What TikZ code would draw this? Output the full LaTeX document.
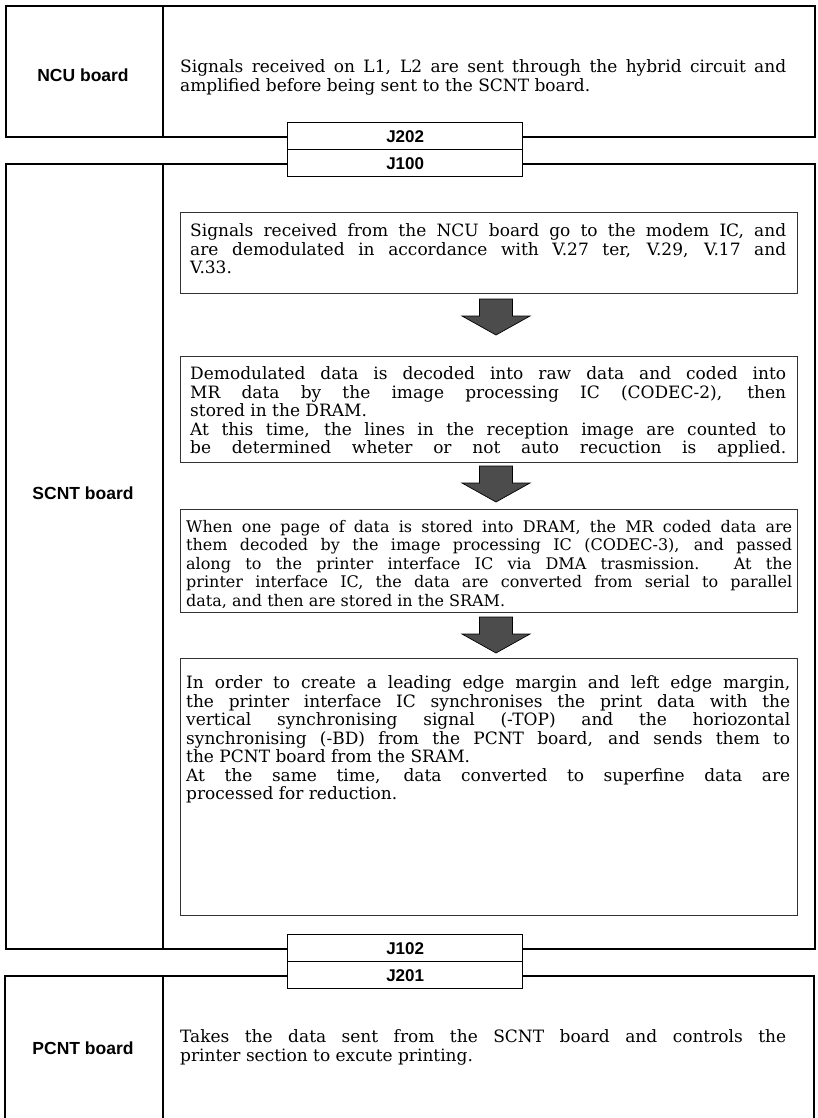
\documentclass[tikz,border=0pt]{standalone}
\usepackage{fontspec}
\setmainfont{DejaVu Serif}
\newfontfamily\labfont{Liberation Sans}
\newcommand{\blkarrow}[2]{\filldraw[blk] (#1-16.5,#2) -- (#1+16.5,#2) -- (#1+16.5,#2+17) -- (#1+34,#2+17) -- (#1,#2+36) -- (#1-34,#2+17) -- (#1-16.5,#2+17) -- cycle;}
\begin{document}
\begin{tikzpicture}[x=1pt,y=-1pt,
  board/.style={draw=black, line width=1.6pt, inner sep=0pt, minimum width=809pt, anchor=north west},
  wall/.style={draw=black, line width=1.6pt},
  conn/.style={draw=black, line width=1.4pt, fill=white, minimum width=235pt, minimum height=27pt, inner sep=0pt, anchor=north west, font=\labfont\bfseries\fontsize{17}{19}\selectfont},
  lab/.style={font=\labfont\bfseries\fontsize{17.5}{19}\selectfont, inner sep=0pt},
  ibox/.style={draw=black!80, line width=1.3pt, minimum width=617pt, inner sep=0pt, anchor=north west},
  txt/.style={anchor=north west, inner sep=0pt, text width=#1, align=justify, font=\fontsize{17}{18.5}\selectfont},
  txts/.style={anchor=north west, inner sep=0pt, text width=#1, align=justify, font=\fontsize{16}{18.5}\selectfont},
  blk/.style={fill=black!70, draw=black, line width=0.7pt, line join=miter}
]
\useasboundingbox (0,0) rectangle (818,1118);

% NCU board
\node[board, minimum height=131pt] (ncu) at (5,5) {};
\draw[wall] (163,5) -- (163,136);
\node[lab] (ncul) at (83,75) {NCU board};
\node[txt=606pt] (ncut) at (180,59.5) {Signals received on L1, L2 are sent through the hybrid circuit and\linebreak amplified before being sent to the SCNT board.};

% SCNT board
\node[board, minimum height=785pt] (scnt) at (5,163) {};
\draw[wall] (163,163) -- (163,948);
\node[lab] (scntl) at (83,493) {SCNT board};

\node[ibox, minimum height=81pt] (b1) at (180,212) {};
\node[txt=596pt] (t1) at (190,223.5) {Signals received from the NCU board go to the modem IC, and\linebreak are demodulated in accordance with V.27 ter, V.29, V.17 and\linebreak V.33.};
\blkarrow{496}{299}

\node[ibox, minimum height=106pt] (b2) at (180,356) {};
\node[txt=596pt] (t2) at (190,366.5) {Demodulated data is decoded into raw data and coded into\linebreak MR data by the image processing IC (CODEC-2), then\linebreak stored in the DRAM.\par
{\parfillskip=0pt At this time, the lines in the reception image are counted to\linebreak be determined wheter or not auto recuction is applied.\par}};
\blkarrow{496}{466}

\node[ibox, minimum height=103pt] (b3) at (180,509) {};
\node[txts=606pt] (t3) at (186,520) {When one page of data is stored into DRAM, the MR coded data are\linebreak them decoded by the image processing IC (CODEC-3), and passed\linebreak along to the printer interface IC via DMA trasmission. At the\linebreak printer interface IC, the data are converted from serial to parallel\linebreak data, and then are stored in the SRAM.};
\blkarrow{496}{617}

\node[ibox, minimum height=257pt] (b4) at (180,658) {};
\node[txt=604pt] (t4) at (186,675.5) {In order to create a leading edge margin and left edge margin,\linebreak the printer interface IC synchronises the print data with the\linebreak vertical synchronising signal (-TOP) and the horiozontal\linebreak synchronising (-BD) from the PCNT board, and sends them to\linebreak the PCNT board from the SRAM.\par
At the same time, data converted to superfine data are\linebreak processed for reduction.};

% PCNT board (continues past the bottom edge)
\coordinate (pcnt) at (5,976);
\draw[wall] (5,1118) -- (pcnt) -- (814,976) -- (814,1118);
\draw[wall] (163,976) -- (163,1118);
\node[lab] (pcntl) at (83,1048) {PCNT board};
\node[txt=606pt] (pcntt) at (180,1029.5) {Takes the data sent from the SCNT board and controls the\linebreak printer section to excute printing.};

% connectors
\node[conn] (j202) at (287,122) {J202};
\node[conn] (j100) at (287,149) {J100};
\node[conn] (j102) at (287,934) {J102};
\node[conn] (j201) at (287,961) {J201};
\end{tikzpicture}
\end{document}
